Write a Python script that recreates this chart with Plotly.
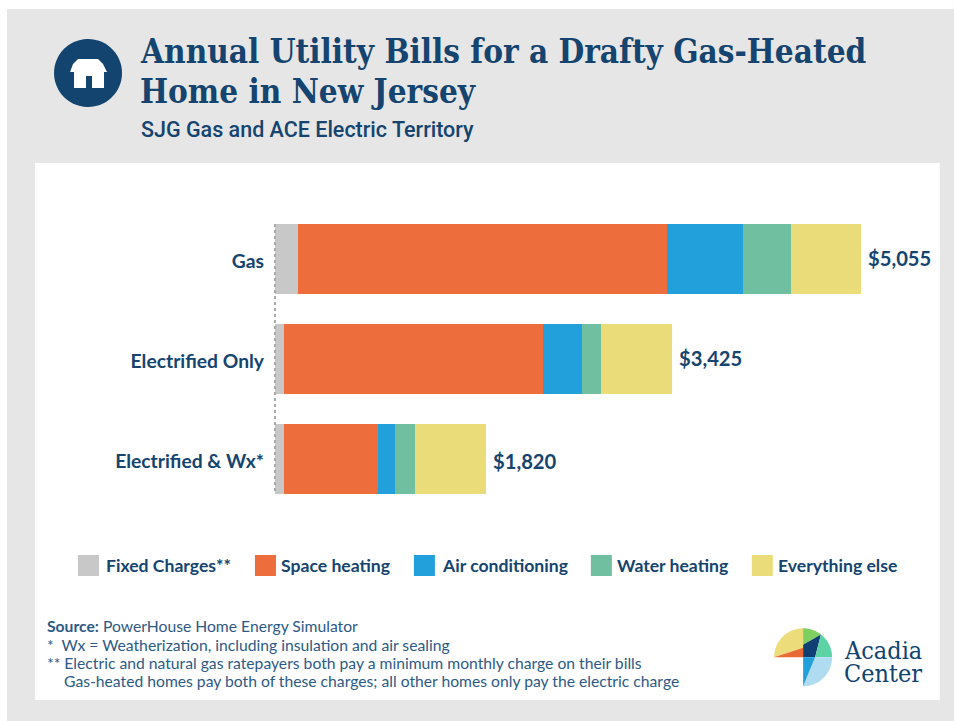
import numpy as np
import plotly.graph_objects as go

categories = ["Gas", "Electrified Only", "Electrified &amp; Wx*"]
series_names = ["Fixed Charges**", "Space heating", "Air conditioning", "Water heating", "Everything else"]
fixed = [198, 78, 78]
space = [3183, 2235, 811]
cooling = [656, 336, 151]
water = [414, 164, 168]
other = [604, 612, 612]
totals = [5055, 3425, 1820]
total_labels = ["$5,055", "$3,425", "$1,820"]
colors = ["#c8c8c8", "#ed6d3d", "#22a0dc", "#70bfa0", "#ebdc7a"]
legend_x = [78, 255, 414, 591, 752]
legend_text_x = [104, 279, 440, 615, 776]
NAVY = "#14446f"
SANS = "Lato, 'Open Sans', sans-serif"

W, H = 954, 721
L, R, T, B = 268.04, 29.76, 209, 212
PW, PH = W - L - R, H - T - B
px = lambda x: (x - L) / PW
py = lambda y: 1 - (y - T) / PH


def poly(points, close=True):
    s = "M" + " L".join(f"{px(x):.5f},{py(y):.5f}" for x, y in points)
    return s + (" Z" if close else "")


def arc(cx, cy, r, a0, a1, n=40):
    t = np.radians(np.linspace(a0, a1, n))
    return [(cx + r * np.cos(v), cy - r * np.sin(v)) for v in t]


fig = go.Figure()
for name, vals, col in zip(series_names, [fixed, space, cooling, water, other], colors):
    fig.add_trace(go.Bar(y=categories, x=vals, name=name, orientation="h", width=0.7,
                         marker=dict(color=col, line=dict(width=0)), showlegend=False))

shapes = []


def rect(x0, y0, x1, y1, col, layer="below"):
    shapes.append(dict(type="rect", xref="paper", yref="paper", x0=px(x0), x1=px(x1), y0=py(y0), y1=py(y1),
                       fillcolor=col, line=dict(width=0), layer=layer))


def path(points, col):
    shapes.append(dict(type="path", xref="paper", yref="paper", path=poly(points), fillcolor=col,
                       line=dict(width=0), layer="above"))


# page frame
rect(0, 0, W, 9, "#ffffff")
rect(0, 0, 7, H, "#ffffff")
rect(35, 163, 940, 700, "#ffffff")

# header icon
path(arc(88, 73, 34, 0, 360, 90), "#12446f")
path([(78, 59), (98, 59), (103, 64), (107, 72), (104, 72), (104, 88), (92, 88), (92, 76), (86, 76), (86, 88),
      (74, 88), (74, 72), (70, 72), (73, 64)], "#ffffff")

# logo
cx, cy, r = 803.3, 657.3, 29
path([(cx, cy - 9.5)] + arc(cx, cy, r, 90, 180), "#ecdc7a")
path([(cx - r, cy), (cx, cy), (cx, cy - 9.5)], "#e96a35")
path(arc(cx, cy, r, 90, 52) + [(cx, cy - 12.5)], "#7ed060")
path([(cx, cy), (cx, cy - 12.5), (cx + r * np.cos(np.radians(52)), cy - r * np.sin(np.radians(52))), (cx + 12, cy)], "#0f3f73")
path(arc(cx, cy, r, 52, 0) + [(cx + 12, cy)], "#5cd3a4")
path(arc(cx, cy, r, 0, -90) + [(cx + 12, cy)], "#b0dcf2")
path([(cx, cy), (cx + 12, cy), (cx, cy + r)], "#22a0dc")

# dotted baseline
shapes.append(dict(type="line", xref="x", yref="paper", x0=0, x1=0, y0=py(224), y1=py(494),
                   line=dict(color="#a9a9a9", width=2, dash="dot"), layer="above"))

# legend swatches
for x, col in zip(legend_x, colors):
    rect(x, 555, x + 21, 576, col)

ann = []


def text(x, y, s, size, family=SANS, color=NAVY, weight=400, anchor="left"):
    ann.append(dict(xref="paper", yref="paper", x=px(x), y=py(y), text=s, showarrow=False, xanchor=anchor,
                    yanchor="middle", align="left",
                    font=dict(family=family, size=size, color=color, weight=weight)))


for cat, tot, lab, dy in zip(categories, totals, total_labels, [-1, -1, 2]):
    ann.append(dict(xref="x", yref="y", x=tot, y=cat, text=lab, showarrow=False, xanchor="left", yanchor="middle",
                    xshift=5, yshift=-dy, font=dict(family=SANS, size=20.2, color=NAVY, weight=700)))

TITLE = "'DejaVu Serif Condensed', 'DejaVu Serif', serif"
text(138, 52, "Annual Utility Bills for a Drafty Gas-Heated", 33, TITLE, "#14446f", 700)
text(138, 92, "Home in New Jersey", 33, TITLE, "#14446f", 700)
text(139, 129, "SJG Gas and ACE Electric Territory", 21.5, "Roboto, Lato, sans-serif", NAVY, 500)

for x, name in zip(legend_text_x, series_names):
    text(x, 565, name, 17.6, SANS, NAVY, 700)

FOOT = "#2d5a85"
FS = 15.7
text(45, 626, "<b>Source:</b> PowerHouse Home Energy Simulator", FS, SANS, FOOT)
text(45, 645, "*  Wx = Weatherization, including insulation and air sealing", FS, SANS, FOOT)
text(45, 663, "** Electric and natural gas ratepayers both pay a minimum monthly charge on their bills", FS, SANS, FOOT)
text(62, 681, "Gas-heated homes pay both of these charges; all other homes only pay the electric charge", FS, SANS, FOOT)

LOGO = "'DejaVu Serif Condensed', 'Liberation Serif', serif"
text(842, 650, "Acadia", 25, LOGO, "#0f4470", 400)
text(842, 673, "Center", 25, LOGO, "#0f4470", 400)

fig.update_layout(
    width=W, height=H, autosize=False, barmode="stack", bargap=0.3,
    margin=dict(l=L, r=R, t=T, b=B, pad=0),
    paper_bgcolor="#e6e6e6", plot_bgcolor="rgba(0,0,0,0)",
    shapes=shapes, annotations=ann,
    xaxis=dict(range=[-60, 5600], visible=False, fixedrange=True),
    yaxis=dict(autorange="reversed", showgrid=False, showline=False, zeroline=False, ticks="", fixedrange=True,
               ticklabelstandoff=3, ticklabelshift=-2,
               tickfont=dict(family=SANS, size=19.3, color=NAVY, weight=700)),
)

fig.write_html("out.html", config={"displayModeBar": False},
               post_script="document.body.style.margin='0';document.documentElement.style.overflow='hidden';")
